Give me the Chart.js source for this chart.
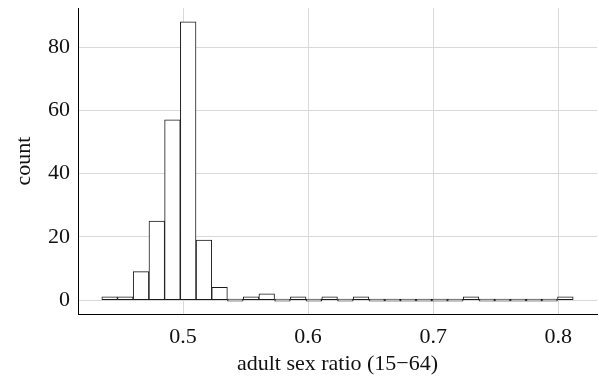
<!DOCTYPE html>
<html>
<head>
<meta charset="utf-8">
<script src="https://cdn.jsdelivr.net/npm/chart.js"></script>
<style>
  html, body { margin: 0; padding: 0; background: #fff; }
  #wrap { width: 599px; height: 380px; }
</style>
</head>
<body>
<div id="wrap"><canvas id="hist"></canvas></div>
<script>
// bin centres of the histogram (adult sex ratio)
const binCenters = [0.4413, 0.4538, 0.4664, 0.4790, 0.4915, 0.5041, 0.5167, 0.5292, 0.5418, 0.5544,
                    0.5669, 0.5795, 0.5921, 0.6046, 0.6172, 0.6298, 0.6423, 0.6549, 0.6675, 0.6800,
                    0.6926, 0.7052, 0.7177, 0.7303, 0.7429, 0.7554, 0.7680, 0.7806, 0.7931, 0.8057];
const counts = [1, 1, 9, 25, 57, 88, 19, 4, 0, 1,
                2, 0, 1, 0, 1, 0, 1, 0, 0, 0,
                0, 0, 0, 1, 0, 0, 0, 0, 0, 1];
const xTicks = [0.5, 0.6, 0.7, 0.8];
const yTicks = [0, 20, 40, 60, 80];

const font = { family: '"Liberation Serif", "DejaVu Serif", serif', size: 22 };

//setup block
const data = {
  datasets: [{
    label: 'count',
    data: binCenters.map((x, i) => ({ x: x, y: counts[i] })),
    backgroundColor: '#ffffff',
    borderColor: '#1a1a1a',
    borderWidth: 1,
    borderSkipped: false,
    minBarLength: 2,
    barPercentage: 1,
    categoryPercentage: 1
  }]
};

//config block
const config = {
  type: 'bar',
  data: data,
  options: {
    responsive: true,
    maintainAspectRatio: false,
    animation: false,
    layout: { padding: { top: 8, right: 2, left: 0, bottom: 0 } },
    plugins: { legend: { display: false }, tooltip: { enabled: false } },
    scales: {
      x: {
        type: 'linear',
        min: 0.416,
        max: 0.831,
        offset: false,
        afterBuildTicks: s => { s.ticks = xTicks.map(v => ({ value: v })); },
        afterFit: s => { s.height = 66; s.paddingLeft = 0; s.paddingRight = 0; },
        grid: { color: '#d9d9d9', lineWidth: 1, drawTicks: false, offset: false },
        border: { color: '#000', width: 1 },
        ticks: { color: '#111', font: font, padding: 10, maxRotation: 0 },
        title: { display: true, text: 'adult sex ratio (15\u221264)', color: '#111', font: font, padding: { top: 0, bottom: 3 } }
      },
      y: {
        min: -4.4,
        max: 92.4,
        afterBuildTicks: s => { s.ticks = yTicks.map(v => ({ value: v })); },
        afterFit: s => { s.width = 78; s.paddingTop = 0; s.paddingBottom = 0; },
        grid: { color: '#d9d9d9', lineWidth: 1, drawTicks: false },
        border: { color: '#000', width: 1 },
        ticks: { color: '#111', font: font, padding: 8 },
        title: { display: true, text: 'count', color: '#111', font: font, padding: { top: 11, bottom: 0 } }
      }
    }
  }
};

//init render block
const histChart = new Chart(document.getElementById('hist'), config);
</script>
</body>
</html>
